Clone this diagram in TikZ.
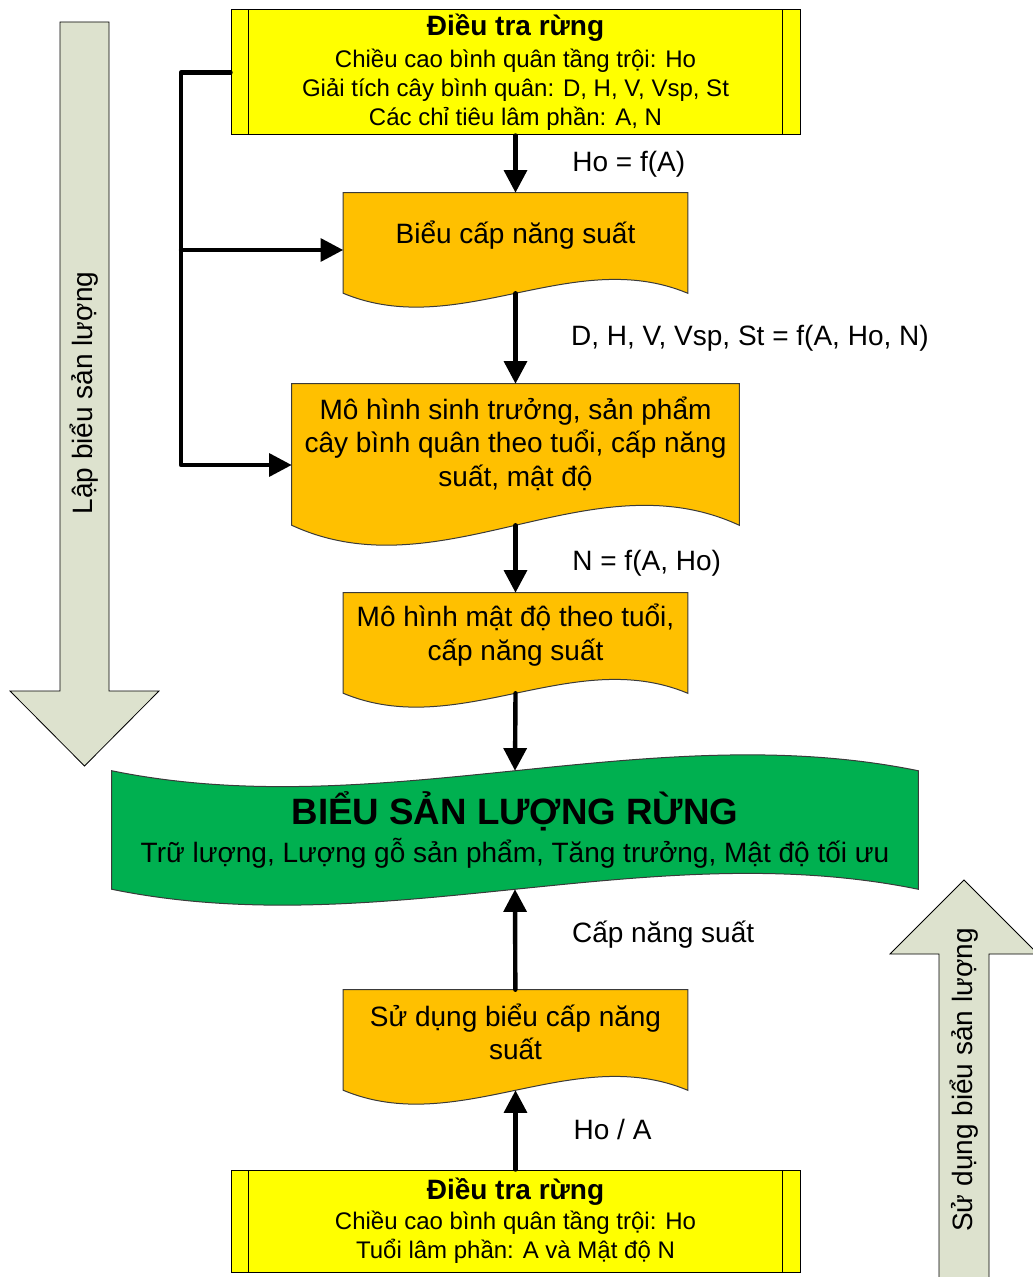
\documentclass[tikz,border=0pt]{standalone}
\usepackage{fontspec}
\setmainfont{Liberation Sans}
\usetikzlibrary{calc, arrows.meta, positioning, backgrounds}
\definecolor{cyellow}{HTML}{FFFF00}
\definecolor{corange}{HTML}{FFC000}
\definecolor{cgreen}{HTML}{00B050}
\definecolor{cbig}{HTML}{DDE2CE}
\definecolor{edge}{HTML}{3A3A3A}
\newlength{\pu}\setlength{\pu}{0.75pt}
\tikzset{el/.style={line cap=round, line join=round}}

% document shape: node, drop of the corners, wave, fill
\newcommand{\docshape}[4]{%
  \coordinate (#1-se) at ($(#1.south east)+(0,#2)$);
  \coordinate (#1-sw) at ($(#1.south west)+(0,#2)$);
  \coordinate (#1-b) at ($(#1.south)+(0,#2)$);
  \begin{pgfonlayer}{background}
    \path[draw=edge, line width=0.75pt, fill=#4] (#1.north west) -- (#1.north east) -- (#1-se)
      .. controls ($(#1-se)!1/3!(#1-sw)+(0,-#3)$) and ($(#1-se)!2/3!(#1-sw)+(0,#3)$) .. (#1-sw) -- cycle;
  \end{pgfonlayer}}

% tape shape: node, rise of the corners, wave, fill
\newcommand{\tapeshape}[4]{%
  \coordinate (#1-nw) at ($(#1.north west)+(0,-#2)$);
  \coordinate (#1-ne) at ($(#1.north east)+(0,-#2)$);
  \coordinate (#1-se) at ($(#1.south east)+(0,#2)$);
  \coordinate (#1-sw) at ($(#1.south west)+(0,#2)$);
  \coordinate (#1-t) at ($(#1.north)+(0,-#2)$);
  \coordinate (#1-b) at ($(#1.south)+(0,#2)$);
  \begin{pgfonlayer}{background}
    \path[draw=edge, line width=0.75pt, fill=#4] (#1-nw)
      .. controls ($(#1-nw)!1/3!(#1-ne)+(0,#3)$) and ($(#1-nw)!2/3!(#1-ne)+(0,-#3)$) .. (#1-ne) -- (#1-se)
      .. controls ($(#1-se)!1/3!(#1-sw)+(0,-#3)$) and ($(#1-se)!2/3!(#1-sw)+(0,#3)$) .. (#1-sw) -- cycle;
  \end{pgfonlayer}}

\begin{document}
\begin{tikzpicture}[x=\pu, y=-\pu,
     pbox/.style={draw=black, line width=0.75pt, fill=cyellow, align=center, inner sep=0pt,
        font=\fontsize{18}{21.75}\selectfont,
        path picture={\draw[line width=0.75pt]
          ([xshift=13pt]path picture bounding box.north west) -- ([xshift=13pt]path picture bounding box.south west)
          ([xshift=-13pt]path picture bounding box.north east) -- ([xshift=-13pt]path picture bounding box.south east);}},
     dbox/.style={align=center, inner sep=0pt, font=\fontsize{21}{25}\selectfont},
     lab/.style={inner sep=0pt, font=\fontsize{21}{25}\selectfont},
     ar/.style={el, -{Triangle[length=17pt, width=17pt]}, line width=3.3pt},
     bigarrow/.style={draw=black, line width=0.6pt, fill=cbig}]
  \useasboundingbox (0,0) rectangle (1032,1277);
  \begin{pgfonlayer}{background}
    \fill[white] (0,0) rectangle (1032,1277);
  \end{pgfonlayer}

  % big arrows at the sides
  \draw[bigarrow] (60,22) -- (109,22) -- (109,691) -- (159,691) -- (84.5,766) -- (10,691) -- (60,691) -- cycle;
  \node[lab, rotate=90] (lbsl) at (84.5,393) {Lập biểu sản lượng};
  \draw[bigarrow] (939,1290) -- (939,954) -- (890,954) -- (964,880) -- (1038,954) -- (989,954) -- (989,1290) -- cycle;
  \node[lab, rotate=90] (sdsl) at (964,1080) {Sử dụng biểu sản lượng};

  % building the table
  \node[pbox, minimum width=569\pu, minimum height=125\pu] (dt1) at (515.5,72.5)
    {{\bfseries\fontsize{21}{24}\selectfont Điều tra rừng}\\[2pt]Chiều cao bình quân tầng trội: Ho\\Giải tích cây bình quân: D, H, V, Vsp, St\\Các chỉ tiêu lâm phần: A, N};
  \node[dbox, minimum width=344\pu, minimum height=84\pu] (bcns) at (515.5,235) {Biểu cấp năng suất};
  \docshape{bcns}{16}{48}{corange}
  \node[dbox, minimum width=447\pu, minimum height=119\pu] (mhst) at (515.5,443.5)
    {Mô hình sinh trưởng, sản phẩm\\cây bình quân theo tuổi, cấp năng\\suất, mật độ};
  \docshape{mhst}{22}{69}{corange}
  \node[dbox, minimum width=344\pu, minimum height=84\pu] (mhmd) at (515.5,635)
    {Mô hình mật độ theo tuổi,\\cấp năng suất};
  \docshape{mhmd}{16}{48}{corange}

  \node[dbox, minimum width=806\pu, minimum height=80\pu] (bslr) at (515,830)
    {{\bfseries\fontsize{27.5}{30}\selectfont BIỂU SẢN LƯỢNG RỪNG}\\[4pt]Trữ lượng, Lượng gỗ sản phẩm, Tăng trưởng, Mật độ tối ưu};
  \tapeshape{bslr}{19}{55}{cgreen}

  % using the table
  \node[dbox, minimum width=344\pu, minimum height=84\pu] (sdbc) at (515.5,1032)
    {Sử dụng biểu cấp năng\\suất};
  \docshape{sdbc}{16}{48}{corange}
  \node[pbox, minimum width=569\pu, minimum height=102\pu] (dt2) at (515.5,1221)
    {{\bfseries\fontsize{21}{24}\selectfont Điều tra rừng}\\[1pt]Chiều cao bình quân tầng trội: Ho\\Tuổi lâm phần: A và Mật độ N};

  \draw[ar] (dt1) -- node[lab, right=41pt] {Ho = f(A)} (bcns);
  \draw[ar] (bcns-b) -- node[lab, right=40pt] {D, H, V, Vsp, St = f(A, Ho, N)} (mhst);
  \draw[ar] (mhst-b) -- node[lab, right=41pt, yshift=-3pt] {N = f(A, Ho)} (mhmd);
  \draw[ar] (mhmd-b) -- (bslr-t);
  \draw[ar] (sdbc) -- node[lab, right=41pt, yshift=3.5pt] {Cấp năng suất} (bslr-b);
  \draw[ar] (dt2) -- node[lab, right=42pt] {Ho / A} (sdbc-b);

  % feedback from the survey
  \coordinate (fb1) at (181,250);
  \coordinate (fb2) at (181,465);
  \draw[ar] (dt1.west) -| (fb2) -- (fb2 -| mhst.west);
  \draw[ar] (fb1) -- (fb1 -| bcns.west);
\end{tikzpicture}
\end{document}
